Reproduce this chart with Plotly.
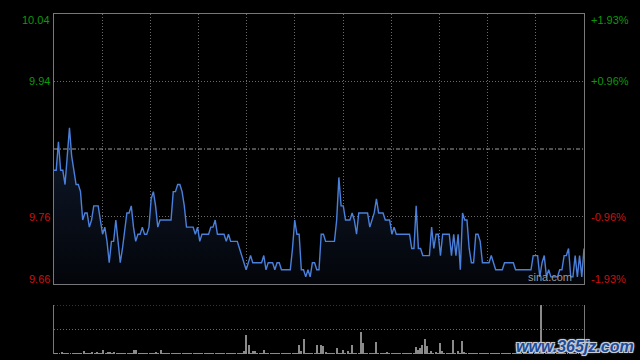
import plotly.graph_objects as go

# ---------------- data ----------------
prev_close = 9.85
y_min, y_max = 9.66, 10.04
price_tick_labels = ["10.04", "9.94", "9.76", "9.66"]
pct_tick_labels = ["+1.93%", "+0.96%", "-0.96%", "-1.93%"]

prices = [
    9.82, 9.82, 9.86, 9.82, 9.82, 9.80, 9.84, 9.88, 9.84, 9.82,
    9.80, 9.80, 9.79, 9.75, 9.76, 9.76, 9.74, 9.75, 9.77, 9.77,
    9.77, 9.75, 9.73, 9.74, 9.72, 9.69, 9.72, 9.72, 9.75, 9.72,
    9.69, 9.71, 9.74, 9.76, 9.76, 9.77, 9.74, 9.72, 9.73, 9.73,
    9.74, 9.73, 9.73, 9.74, 9.78, 9.79, 9.77, 9.74, 9.75, 9.75,
    9.75, 9.75, 9.75, 9.75, 9.79, 9.79, 9.80, 9.80, 9.79, 9.77,
    9.74, 9.74, 9.74, 9.74, 9.73, 9.74, 9.72, 9.73, 9.73, 9.73,
    9.73, 9.74, 9.74, 9.75, 9.73, 9.73, 9.73, 9.73, 9.72, 9.73,
    9.72, 9.72, 9.72, 9.72, 9.71, 9.70, 9.69, 9.68, 9.69, 9.70,
    9.69, 9.69, 9.69, 9.69, 9.69, 9.70, 9.68, 9.69, 9.69, 9.69,
    9.68, 9.69, 9.69, 9.68, 9.68, 9.68, 9.68, 9.68, 9.71, 9.75,
    9.73, 9.73, 9.68, 9.68, 9.67, 9.68, 9.67, 9.69, 9.69, 9.68,
    9.68, 9.73, 9.73, 9.72, 9.72, 9.72, 9.72, 9.72, 9.75, 9.81,
    9.77, 9.77, 9.75, 9.75, 9.75, 9.76, 9.75, 9.73, 9.76, 9.76,
    9.76, 9.76, 9.76, 9.74, 9.75, 9.76, 9.78, 9.76, 9.76, 9.76,
    9.75, 9.75, 9.75, 9.73, 9.74, 9.73, 9.73, 9.73, 9.73, 9.73,
    9.73, 9.73, 9.71, 9.71, 9.77, 9.71, 9.71, 9.70, 9.70, 9.70,
    9.70, 9.74, 9.71, 9.73, 9.73, 9.70, 9.73, 9.73, 9.73, 9.73,
    9.70, 9.73, 9.70, 9.73, 9.68, 9.76, 9.75, 9.75, 9.71, 9.69,
    9.69, 9.73, 9.73, 9.72, 9.69, 9.69, 9.69, 9.69, 9.70, 9.69,
    9.68, 9.68, 9.68, 9.68, 9.69, 9.69, 9.69, 9.69, 9.69, 9.68,
    9.68, 9.68, 9.68, 9.68, 9.68, 9.68, 9.68, 9.70, 9.70, 9.70,
    9.67, 9.69, 9.70, 9.67, 9.68, 9.67, 9.67, 9.67, 9.67, 9.68,
    9.68, 9.70, 9.70, 9.71, 9.67, 9.67, 9.70, 9.67, 9.70, 9.67,
    9.71,
]

volumes = [
    10, 10, 10, 17, 10, 10, 10, 10, 10, 10, 10, 10, 10, 33, 10, 10, 10, 17, 10, 17,
    10, 10, 43, 10, 23, 23, 10, 20, 10, 10, 10, 10, 10, 10, 10, 10, 37, 43, 10, 10,
    10, 10, 10, 10, 10, 10, 23, 10, 43, 10, 10, 10, 10, 10, 10, 10, 10, 10, 10, 10,
    10, 10, 10, 10, 10, 10, 10, 10, 10, 10, 10, 10, 10, 10, 10, 10, 10, 10, 10, 10,
    10, 10, 10, 10, 10, 10, 33, 193, 93, 10, 33, 33, 10, 10, 10, 43, 10, 10, 10, 10,
    10, 10, 10, 10, 10, 10, 10, 10, 10, 10, 10, 93, 33, 150, 10, 10, 10, 10, 10, 93,
    10, 93, 83, 17, 10, 10, 10, 10, 63, 10, 10, 43, 10, 33, 10, 93, 10, 10, 10, 220,
    110, 10, 10, 10, 10, 10, 123, 10, 10, 10, 10, 17, 10, 10, 10, 10, 10, 10, 10, 10,
    10, 10, 10, 10, 70, 43, 60, 93, 150, 83, 10, 27, 10, 17, 10, 110, 33, 10, 10, 10,
    10, 143, 10, 27, 10, 133, 23, 10, 10, 10, 10, 10, 10, 10, 10, 10, 10, 10, 10, 10,
    10, 10, 10, 10, 10, 10, 10, 10, 10, 10, 10, 10, 10, 10, 10, 10, 10, 10, 10, 10,
    10, 490, 10, 10, 10, 10, 10, 10, 10, 10, 10, 10, 10, 10, 10, 10, 10, 10, 10, 10,
    10,
]

minutes = list(range(len(prices)))
n_last = len(prices) - 1
vol_max = max(volumes)

# ---------------- figure ----------------
W, H = 640, 360
px = lambda v: v / W
py = lambda v: 1 - v / H

FONT = "Liberation Sans, Arial, sans-serif"
GREEN = "#0a9a0a"
RED = "#cc1010"
BORDER = "#787878"
GRID = "#6a6a6a"
DOT = "1px,2px"

fig = go.Figure()

# baseline for fill
fig.add_trace(go.Scatter(
    x=minutes, y=[y_min] * len(prices), mode="lines",
    line=dict(width=0, color="rgba(0,0,0,0)"), hoverinfo="skip", showlegend=False,
))
fig.add_trace(go.Scatter(
    x=minutes, y=prices, mode="lines",
    line=dict(color="#4a80dc", width=1.4),
    fill="tonexty",
    fillgradient=dict(type="vertical",
                      colorscale=[[0, "#03050a"], [1, "#101a2c"]]),
    showlegend=False,
))

fig.add_trace(go.Bar(
    x=minutes, y=volumes, xaxis="x2", yaxis="y2",
    marker=dict(color="#8a8a8a", line=dict(width=0)),
    width=0.45, showlegend=False,
))

x_dom = [px(54), px(584)]
vgrid = [n_last * k / 11 for k in range(1, 11)]
step = (y_max - y_min) / 4
hgrid = [y_max - step, y_min + step]

fig.update_layout(
    width=W, height=H,
    margin=dict(l=0, r=0, t=0, b=0),
    paper_bgcolor="#000000", plot_bgcolor="#000000",
    bargap=0,
    xaxis=dict(domain=x_dom, range=[0, n_last], tickvals=vgrid,
               showticklabels=False, ticks="", showgrid=True,
               gridcolor=GRID, griddash=DOT, gridwidth=1,
               showline=True, mirror=True, linecolor=BORDER, linewidth=1,
               zeroline=False, fixedrange=True),
    yaxis=dict(domain=[py(284), py(14)], range=[y_min, y_max], tickvals=hgrid,
               showticklabels=False, ticks="", showgrid=True,
               gridcolor=GRID, griddash=DOT, gridwidth=1,
               showline=True, mirror=True, linecolor=BORDER, linewidth=1,
               zeroline=False, fixedrange=True),
    xaxis2=dict(domain=x_dom, range=[-0.5, n_last + 0.5], anchor="y2",
                showticklabels=False, ticks="", showgrid=False,
                showline=False, zeroline=False, fixedrange=True),
    yaxis2=dict(domain=[py(354), py(305)], range=[0, vol_max], anchor="x2",
                showticklabels=False, ticks="", showgrid=False,
                showline=True, mirror=True, linecolor=BORDER, linewidth=1,
                zeroline=False, fixedrange=True),
    showlegend=False,
)

# previous close line (dash-dot)
fig.add_shape(type="line", xref="x domain", yref="y", x0=0, x1=1,
              y0=prev_close, y1=prev_close,
              line=dict(color="#a0a0a0", width=1, dash="4px,2px,1px,2px"))
# volume panel dotted lines
for frac in (1.0, 0.5):
    fig.add_shape(type="line", xref="x2 domain", yref="y2", x0=0, x1=1,
                  y0=vol_max * frac, y1=vol_max * frac,
                  line=dict(color=GRID, width=1, dash=DOT))

# axis labels
label_vals = [y_max, y_max - step, y_min + step, y_min]
anchors = ["top", "middle", "middle", "bottom"]
shifts = [2, 0, 0, -3]
colors = [GREEN, GREEN, RED, RED]
for v, t, p, a, s, c in zip(label_vals, price_tick_labels, pct_tick_labels,
                            anchors, shifts, colors):
    fig.add_annotation(x=px(52), xref="paper", y=v, yref="y", text=t,
                       showarrow=False, xanchor="right", yanchor=a, yshift=s,
                       font=dict(family=FONT, size=11, color=c))
    fig.add_annotation(x=px(589), xref="paper", y=v, yref="y", text=p,
                       showarrow=False, xanchor="left", yanchor=a, yshift=s,
                       font=dict(family=FONT, size=11, color=c))

# watermarks
fig.add_annotation(x=px(574), xref="paper", y=py(285), yref="paper",
                   text="sina.com", showarrow=False, xanchor="right",
                   yanchor="bottom",
                   font=dict(family=FONT, size=11, color="#9a9a9a"))
fig.add_annotation(x=px(636), xref="paper", y=py(357), yref="paper",
                   text="<b><i>www.365jz.com</i></b>", showarrow=False,
                   xanchor="right", yanchor="bottom",
                   font=dict(family=FONT, size=16, color="#1d4c98",
                             shadow="1px 1px 0 #c8ccd8, -1px -1px 0 #c8ccd8, "
                                    "1px -1px 0 #c8ccd8, -1px 1px 0 #c8ccd8, "
                                    "0 0 3px #e0e4ee"))

fig.write_html(
    "out.html",
    config={"displayModeBar": False},
    post_script="document.body.style.margin='0';"
                "document.body.style.overflow='hidden';"
                "document.body.style.background='#000';",
)
